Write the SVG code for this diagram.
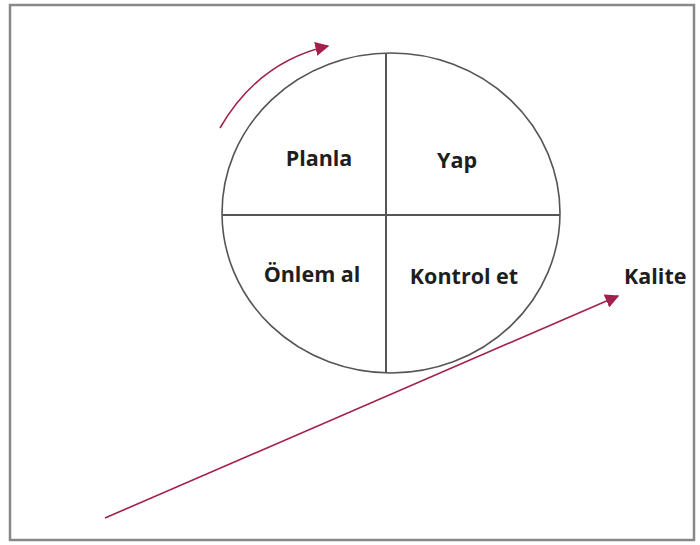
<svg xmlns="http://www.w3.org/2000/svg" width="700" height="545" viewBox="0 0 700 545">
<defs>
<style>
.lbl{font-family:"Open Sans","Liberation Sans",sans-serif;font-weight:bold;font-size:21.5px;fill:#1e1e1e}
.arr{fill:none;stroke:#a3204e;stroke-width:1.6}
</style>
<marker id="ah2" viewBox="0 0 10 10" refX="9" refY="5" markerWidth="14" markerHeight="14" markerUnits="userSpaceOnUse" orient="auto"><path d="M0,0 L10,5 L0,10 z" fill="#a3204e"/></marker>
</defs>
<rect x="0" y="0" width="700" height="545" fill="#fff"/>
<rect x="10" y="5" width="684" height="535" fill="none" stroke="#888" stroke-width="2.5"/>
<g id="cycle">
<ellipse cx="391" cy="213" rx="169" ry="160" fill="none" stroke="#555" stroke-width="1.6"/>
<line x1="222" y1="215" x2="560" y2="215" stroke="#555" stroke-width="2"/>
<line x1="386" y1="53" x2="386" y2="373" stroke="#555" stroke-width="2"/>
</g>
<g id="planla"><text class="lbl" x="319" y="166" text-anchor="middle">Planla</text></g>
<g id="yap"><text class="lbl" x="457" y="168" text-anchor="middle">Yap</text></g>
<g id="onlem"><text class="lbl" x="312" y="282" text-anchor="middle">Önlem al</text></g>
<g id="kontrol"><text class="lbl" x="464" y="284" text-anchor="middle">Kontrol et</text></g>
<g id="kalite"><text class="lbl" x="624" y="284">Kalite</text></g>
<g id="connectors">
<path class="arr" d="M220,128 Q258,62 328,46" marker-end="url(#ah2)"/>
<line class="arr" x1="105" y1="518" x2="618" y2="296" marker-end="url(#ah2)"/>
</g>
</svg>
